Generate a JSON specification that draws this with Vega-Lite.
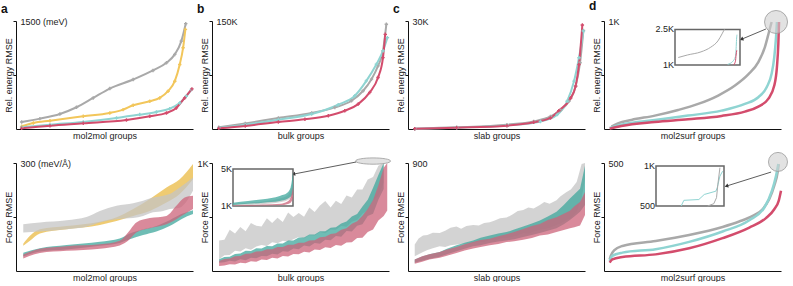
{
"$schema":"https://vega.github.io/schema/vega-lite/v6.json",
"padding":{"left":1,"top":-1,"right":0,"bottom":0},
"background":"white",
"config":{"view":{"stroke":null},"font":"Liberation Sans",
 "axis":{"labelFont":"Liberation Sans","titleFont":"Liberation Sans","labelFontSize":9,"titleFontSize":9,"titleFontWeight":"normal","labelColor":"#222","titleColor":"#222","domainColor":"#111","tickColor":"#111","grid":false},
 "axisX":{"ticks":false,"labels":false,"titlePadding":2},
 "axisY":{"tickSize":3,"labelPadding":-7,"labelAlign":"left","labelBaseline":"middle","labelFlush":false,"labelOverlap":false,"titleX":-5,"titleY":54,"titleBaseline":"alphabetic"},
 "title":{"anchor":"start","frame":"group","font":"Liberation Sans","fontSize":12,"fontWeight":"bold","dx":-15,"offset":1,"color":"#111"}
},
"datasets":{
"aE":[
{"s":"gray","x":3.2,"y":97},{"s":"gray","x":13.5,"y":144},{"s":"gray","x":24.8,"y":209},{"s":"gray","x":34.2,"y":302},{"s":"gray","x":43.6,"y":432},{"s":"gray","x":53,"y":562},{"s":"gray","x":66.2,"y":687},{"s":"gray","x":77.4,"y":813},{"s":"gray","x":85,"y":920},{"s":"gray","x":89.7,"y":1036},{"s":"gray","x":93.4,"y":1221},{"s":"gray","x":95.9,"y":1463},
{"s":"yellow","x":3.2,"y":37},{"s":"yellow","x":9.8,"y":84},{"s":"yellow","x":19.2,"y":116},{"s":"yellow","x":38,"y":176},{"s":"yellow","x":53,"y":223},{"s":"yellow","x":60.5,"y":269},{"s":"yellow","x":66.2,"y":330},{"s":"yellow","x":75.6,"y":385},{"s":"yellow","x":81.2,"y":432},{"s":"yellow","x":85.9,"y":525},{"s":"yellow","x":89.7,"y":664},{"s":"yellow","x":92.5,"y":896},{"s":"yellow","x":94.4,"y":1128},{"s":"yellow","x":95.7,"y":1384},
{"s":"teal","x":3.2,"y":23},{"s":"teal","x":19.2,"y":60},{"s":"teal","x":38,"y":98},{"s":"teal","x":56.8,"y":153},{"s":"teal","x":69.9,"y":200},{"s":"teal","x":79.3,"y":237},{"s":"teal","x":86.8,"y":283},{"s":"teal","x":92.5,"y":362},{"s":"teal","x":96.2,"y":455},{"s":"teal","x":99.1,"y":548},
{"s":"red","x":3.2,"y":9},{"s":"red","x":19.2,"y":46},{"s":"red","x":38,"y":79},{"s":"red","x":62.4,"y":125},{"s":"red","x":75.6,"y":176},{"s":"red","x":85,"y":223},{"s":"red","x":90.6,"y":293},{"s":"red","x":95.3,"y":432},{"s":"red","x":99.4,"y":557}
],
"bE":[
{"s":"gray","x":3.8,"y":2.3},{"s":"gray","x":18.8,"y":7.8},{"s":"gray","x":37.5,"y":15.2},{"s":"gray","x":56.3,"y":22.2},{"s":"gray","x":69.4,"y":30},{"s":"gray","x":78.8,"y":39.2},{"s":"gray","x":85.4,"y":53.1},{"s":"gray","x":90.1,"y":69.2},{"s":"gray","x":93.8,"y":87.7},{"s":"gray","x":96.6,"y":108.5},{"s":"gray","x":98.5,"y":145.4},
{"s":"teal","x":3.8,"y":1.4},{"s":"teal","x":18.8,"y":6},{"s":"teal","x":37.5,"y":12.9},{"s":"teal","x":56.3,"y":20.8},{"s":"teal","x":71.3,"y":33.7},{"s":"teal","x":80.7,"y":46.2},{"s":"teal","x":87.2,"y":66.9},{"s":"teal","x":92.9,"y":90},{"s":"teal","x":96.6,"y":108.5},{"s":"teal","x":99.1,"y":126.9},
{"s":"red","x":3.8,"y":0.9},{"s":"red","x":18.8,"y":4.2},{"s":"red","x":37.5,"y":9.7},{"s":"red","x":52.5,"y":13.4},{"s":"red","x":65.7,"y":18.5},{"s":"red","x":75,"y":25.4},{"s":"red","x":82.6,"y":34.6},{"s":"red","x":89.1,"y":50.8},{"s":"red","x":93.8,"y":71.5},{"s":"red","x":96.6,"y":99.2},{"s":"red","x":97.9,"y":131.5}
],
"cE":[
{"s":"gray","x":3.8,"y":0.09},{"s":"gray","x":27.5,"y":0.46},{"s":"gray","x":55.9,"y":1.2},{"s":"gray","x":71,"y":2.1},{"s":"gray","x":80.5,"y":3.5},{"s":"gray","x":86.2,"y":5.2},{"s":"gray","x":90.9,"y":7.7},{"s":"gray","x":94.7,"y":11.9},{"s":"gray","x":97.2,"y":18.4},{"s":"gray","x":99.1,"y":27.4},
{"s":"teal","x":3.8,"y":0.09},{"s":"teal","x":27.5,"y":0.37},{"s":"teal","x":55.9,"y":1},{"s":"teal","x":74.8,"y":2.1},{"s":"teal","x":84.3,"y":4},{"s":"teal","x":89.9,"y":7.7},{"s":"teal","x":93.8,"y":13.3},{"s":"teal","x":96.6,"y":19.8},{"s":"teal","x":99.1,"y":27.2},
{"s":"red","x":3.8,"y":0.09},{"s":"red","x":27.5,"y":0.37},{"s":"red","x":55.9,"y":0.93},{"s":"red","x":71,"y":1.86},{"s":"red","x":80.5,"y":3.07},{"s":"red","x":85.2,"y":5.1},{"s":"red","x":91.9,"y":8.6},{"s":"red","x":94.7,"y":11.9},{"s":"red","x":96.6,"y":17.9},{"s":"red","x":98.5,"y":28.9}
],
"dE":[
{"s":"gray","x":4.2,"y":22},{"s":"gray","x":7.9,"y":53},{"s":"gray","x":15.5,"y":84},{"s":"gray","x":28.7,"y":124},{"s":"gray","x":41.9,"y":176},{"s":"gray","x":53.2,"y":232},{"s":"gray","x":64.5,"y":310},{"s":"gray","x":74,"y":402},{"s":"gray","x":81.5,"y":505},{"s":"gray","x":87.2,"y":619},{"s":"gray","x":90.9,"y":759},{"s":"gray","x":93.2,"y":898},{"s":"gray","x":94.7,"y":991},
{"s":"teal","x":3.2,"y":9},{"s":"teal","x":9.8,"y":40},{"s":"teal","x":28.7,"y":84},{"s":"teal","x":47.5,"y":124},{"s":"teal","x":66.4,"y":170},{"s":"teal","x":79.6,"y":232},{"s":"teal","x":87.2,"y":294},{"s":"teal","x":91.9,"y":387},{"s":"teal","x":94.7,"y":511},{"s":"teal","x":96.2,"y":666},{"s":"teal","x":97.2,"y":851},{"s":"teal","x":97.7,"y":991},
{"s":"red","x":3.2,"y":3},{"s":"red","x":9.8,"y":28},{"s":"red","x":28.7,"y":65},{"s":"red","x":47.5,"y":90},{"s":"red","x":66.4,"y":121},{"s":"red","x":79.6,"y":161},{"s":"red","x":87.2,"y":207},{"s":"red","x":92.8,"y":279},{"s":"red","x":96.2,"y":402},{"s":"red","x":97.7,"y":573},{"s":"red","x":98.5,"y":789},{"s":"red","x":98.9,"y":991}
],
"dEi":[
{"s":"gray","x":0.05,"y":1316},{"s":"gray","x":0.19,"y":1421},{"s":"gray","x":0.4,"y":1553},{"s":"gray","x":0.55,"y":1750},{"s":"gray","x":0.66,"y":2013},{"s":"gray","x":0.73,"y":2342},{"s":"gray","x":0.76,"y":2500},
{"s":"teal","x":0.81,"y":1026},{"s":"teal","x":0.89,"y":1158},{"s":"teal","x":0.93,"y":1355},{"s":"teal","x":0.94,"y":1684},{"s":"teal","x":0.947,"y":2079},{"s":"teal","x":0.953,"y":2276},
{"s":"red","x":0.9,"y":1000},{"s":"red","x":0.93,"y":1158},{"s":"red","x":0.94,"y":1421},{"s":"red","x":0.95,"y":1618}
],
"aF":[
{"s":"yellow","x":4.1,"hi":76,"lo":70},{"s":"yellow","x":7.9,"hi":98,"lo":84},{"s":"yellow","x":13.5,"hi":116,"lo":104},{"s":"yellow","x":28.6,"hi":125,"lo":116},{"s":"yellow","x":47.4,"hi":137,"lo":128},{"s":"yellow","x":56.8,"hi":149,"lo":139},{"s":"yellow","x":66.2,"hi":172,"lo":153},{"s":"yellow","x":75.6,"hi":200,"lo":167},{"s":"yellow","x":85,"hi":232,"lo":190},{"s":"yellow","x":92.5,"hi":255,"lo":214},{"s":"yellow","x":100,"hi":297,"lo":255},
{"s":"gray","x":4.1,"hi":130,"lo":107},{"s":"gray","x":13.5,"hi":135,"lo":110},{"s":"gray","x":28.6,"hi":141,"lo":116},{"s":"gray","x":39.8,"hi":150,"lo":123},{"s":"gray","x":47.4,"hi":167,"lo":135},{"s":"gray","x":56.8,"hi":181,"lo":144},{"s":"gray","x":66.2,"hi":188,"lo":147},{"s":"gray","x":71.8,"hi":195,"lo":153},{"s":"gray","x":77.4,"hi":204,"lo":163},{"s":"gray","x":83.1,"hi":209,"lo":167},{"s":"gray","x":86.8,"hi":214,"lo":172},{"s":"gray","x":92.5,"hi":232,"lo":176},{"s":"gray","x":100,"hi":260,"lo":223},
{"s":"teal","x":4.1,"hi":51,"lo":40},{"s":"teal","x":13.5,"hi":63,"lo":54},{"s":"teal","x":28.6,"hi":72,"lo":60},{"s":"teal","x":47.4,"hi":81,"lo":70},{"s":"teal","x":58.6,"hi":90,"lo":78},{"s":"teal","x":64.3,"hi":104,"lo":88},{"s":"teal","x":71.8,"hi":116,"lo":100},{"s":"teal","x":79.3,"hi":125,"lo":110},{"s":"teal","x":86.8,"hi":141,"lo":125},{"s":"teal","x":93.4,"hi":158,"lo":144},{"s":"teal","x":100,"hi":169,"lo":158},
{"s":"red","x":4.1,"hi":46,"lo":35},{"s":"red","x":13.5,"hi":62,"lo":50},{"s":"red","x":28.6,"hi":69,"lo":56},{"s":"red","x":47.4,"hi":74,"lo":62},{"s":"red","x":58.6,"hi":84,"lo":71},{"s":"red","x":63.3,"hi":107,"lo":84},{"s":"red","x":68,"hi":135,"lo":107},{"s":"red","x":75.6,"hi":147,"lo":119},{"s":"red","x":85,"hi":153,"lo":130},{"s":"red","x":90.6,"hi":181,"lo":144},{"s":"red","x":95.3,"hi":204,"lo":158},{"s":"red","x":100,"hi":209,"lo":172}
],
"bF":[
{"s":"gray","x":4,"hi":283,"lo":108},{"s":"gray","x":7,"hi":290,"lo":145},{"s":"gray","x":10,"hi":383,"lo":147},{"s":"gray","x":13,"hi":348,"lo":187},{"s":"gray","x":16,"hi":407,"lo":181},{"s":"gray","x":19,"hi":367,"lo":211},{"s":"gray","x":22,"hi":445,"lo":196},{"s":"gray","x":25,"hi":418,"lo":226},{"s":"gray","x":28,"hi":411,"lo":241},{"s":"gray","x":31,"hi":488,"lo":232},{"s":"gray","x":34,"hi":445,"lo":267},{"s":"gray","x":37,"hi":492,"lo":257},{"s":"gray","x":40,"hi":454,"lo":280},{"s":"gray","x":43,"hi":541,"lo":270},{"s":"gray","x":46,"hi":499,"lo":295},{"s":"gray","x":49,"hi":537,"lo":315},{"s":"gray","x":52,"hi":502,"lo":300},{"s":"gray","x":55,"hi":587,"lo":330},{"s":"gray","x":58,"hi":547,"lo":328},{"s":"gray","x":61,"hi":607,"lo":362},{"s":"gray","x":64,"hi":647,"lo":350},{"s":"gray","x":67,"hi":587,"lo":385},{"s":"gray","x":70,"hi":650,"lo":383},{"s":"gray","x":73,"hi":620,"lo":417},{"s":"gray","x":76,"hi":700,"lo":410},{"s":"gray","x":79,"hi":680,"lo":457},{"s":"gray","x":82,"hi":755,"lo":473},{"s":"gray","x":85,"hi":755,"lo":530},{"s":"gray","x":88,"hi":847,"lo":563},{"s":"gray","x":91,"hi":870,"lo":650},{"s":"gray","x":94,"hi":975,"lo":695},{"s":"gray","x":97,"hi":1000,"lo":820},
{"s":"teal","x":4,"hi":108,"lo":77},{"s":"teal","x":7,"hi":130,"lo":80},{"s":"teal","x":10,"hi":132,"lo":95},{"s":"teal","x":13,"hi":158,"lo":88},{"s":"teal","x":16,"hi":162,"lo":108},{"s":"teal","x":19,"hi":188,"lo":100},{"s":"teal","x":22,"hi":186,"lo":122},{"s":"teal","x":25,"hi":210,"lo":118},{"s":"teal","x":28,"hi":208,"lo":140},{"s":"teal","x":31,"hi":232,"lo":136},{"s":"teal","x":34,"hi":230,"lo":160},{"s":"teal","x":37,"hi":254,"lo":152},{"s":"teal","x":40,"hi":255,"lo":182},{"s":"teal","x":43,"hi":282,"lo":178},{"s":"teal","x":46,"hi":282,"lo":208},{"s":"teal","x":49,"hi":310,"lo":202},{"s":"teal","x":52,"hi":310,"lo":235},{"s":"teal","x":55,"hi":338,"lo":226},{"s":"teal","x":58,"hi":338,"lo":260},{"s":"teal","x":61,"hi":368,"lo":252},{"s":"teal","x":64,"hi":368,"lo":290},{"s":"teal","x":67,"hi":400,"lo":284},{"s":"teal","x":70,"hi":405,"lo":325},{"s":"teal","x":73,"hi":440,"lo":318},{"s":"teal","x":76,"hi":458,"lo":370},{"s":"teal","x":79,"hi":505,"lo":366},{"s":"teal","x":82,"hi":528,"lo":420},{"s":"teal","x":85,"hi":598,"lo":432},{"s":"teal","x":88,"hi":660,"lo":510},{"s":"teal","x":91,"hi":770,"lo":530},{"s":"teal","x":94,"hi":890,"lo":660},{"s":"teal","x":97,"hi":1000,"lo":760},
{"s":"red","x":4,"hi":93,"lo":46},{"s":"red","x":7,"hi":110,"lo":50},{"s":"red","x":10,"hi":115,"lo":62},{"s":"red","x":13,"hi":136,"lo":60},{"s":"red","x":16,"hi":140,"lo":76},{"s":"red","x":19,"hi":160,"lo":72},{"s":"red","x":22,"hi":162,"lo":90},{"s":"red","x":25,"hi":181,"lo":86},{"s":"red","x":28,"hi":182,"lo":106},{"s":"red","x":31,"hi":201,"lo":102},{"s":"red","x":34,"hi":202,"lo":122},{"s":"red","x":37,"hi":222,"lo":116},{"s":"red","x":40,"hi":222,"lo":138},{"s":"red","x":43,"hi":242,"lo":134},{"s":"red","x":46,"hi":242,"lo":158},{"s":"red","x":49,"hi":262,"lo":154},{"s":"red","x":52,"hi":262,"lo":178},{"s":"red","x":55,"hi":282,"lo":172},{"s":"red","x":58,"hi":285,"lo":200},{"s":"red","x":61,"hi":312,"lo":194},{"s":"red","x":64,"hi":316,"lo":220},{"s":"red","x":67,"hi":342,"lo":214},{"s":"red","x":70,"hi":350,"lo":240},{"s":"red","x":73,"hi":382,"lo":234},{"s":"red","x":76,"hi":395,"lo":264},{"s":"red","x":79,"hi":438,"lo":266},{"s":"red","x":82,"hi":460,"lo":305},{"s":"red","x":85,"hi":512,"lo":308},{"s":"red","x":88,"hi":575,"lo":362},{"s":"red","x":91,"hi":658,"lo":385},{"s":"red","x":94,"hi":795,"lo":468},{"s":"red","x":97,"hi":955,"lo":510},{"s":"red","x":99,"hi":1000,"lo":560}
],
"bFi":[
{"s":"gray","x":0,"hi":1250,"lo":1050},{"s":"gray","x":0.25,"hi":1350,"lo":1100},{"s":"gray","x":0.5,"hi":1500,"lo":1200},{"s":"gray","x":0.78,"hi":1800,"lo":1400},{"s":"gray","x":0.9,"hi":2100,"lo":1600},{"s":"gray","x":0.96,"hi":2700,"lo":1800},{"s":"gray","x":1,"hi":4000,"lo":2000},
{"s":"teal","x":0,"hi":1364,"lo":1109},{"s":"teal","x":0.25,"hi":1550,"lo":1230},{"s":"teal","x":0.5,"hi":1727,"lo":1364},{"s":"teal","x":0.78,"hi":2091,"lo":1545},{"s":"teal","x":0.9,"hi":2400,"lo":1750},{"s":"teal","x":0.96,"hi":3000,"lo":2000},{"s":"teal","x":1,"hi":4636,"lo":2273},
{"s":"red","x":0,"hi":1060,"lo":1000},{"s":"red","x":0.5,"hi":1150,"lo":1050},{"s":"red","x":0.8,"hi":1250,"lo":1100},{"s":"red","x":0.9,"hi":1450,"lo":1200},{"s":"red","x":0.96,"hi":1900,"lo":1350},{"s":"red","x":1,"hi":3000,"lo":1800}
],
"cF":[
{"s":"gray","x":3.8,"hi":220,"lo":123},{"s":"gray","x":6,"hi":270,"lo":140},{"s":"gray","x":8.5,"hi":296,"lo":159},{"s":"gray","x":11,"hi":300,"lo":175},{"s":"gray","x":14,"hi":318,"lo":190},{"s":"gray","x":17.9,"hi":316,"lo":206},{"s":"gray","x":21,"hi":335,"lo":200},{"s":"gray","x":24,"hi":360,"lo":215},{"s":"gray","x":27.4,"hi":370,"lo":220},{"s":"gray","x":30,"hi":352,"lo":228},{"s":"gray","x":33,"hi":375,"lo":225},{"s":"gray","x":36.8,"hi":384,"lo":233},{"s":"gray","x":40,"hi":380,"lo":245},{"s":"gray","x":43,"hi":400,"lo":240},{"s":"gray","x":46.2,"hi":406,"lo":261},{"s":"gray","x":49,"hi":420,"lo":255},{"s":"gray","x":52,"hi":440,"lo":270},{"s":"gray","x":55.7,"hi":445,"lo":274},{"s":"gray","x":59,"hi":470,"lo":285},{"s":"gray","x":62,"hi":500,"lo":295},{"s":"gray","x":65.1,"hi":508,"lo":316},{"s":"gray","x":68,"hi":530,"lo":310},{"s":"gray","x":71,"hi":520,"lo":330},{"s":"gray","x":74.5,"hi":549,"lo":343},{"s":"gray","x":77,"hi":575,"lo":350},{"s":"gray","x":80,"hi":560,"lo":360},{"s":"gray","x":83.9,"hi":590,"lo":384},{"s":"gray","x":86,"hi":620,"lo":395},{"s":"gray","x":89.6,"hi":659,"lo":425},{"s":"gray","x":92,"hi":680,"lo":440},{"s":"gray","x":95.3,"hi":741,"lo":494},{"s":"gray","x":98.1,"hi":892,"lo":604},{"s":"gray","x":100,"hi":900,"lo":768},
{"s":"teal","x":3.8,"hi":96,"lo":69},{"s":"teal","x":8,"hi":120,"lo":85},{"s":"teal","x":12,"hi":140,"lo":100},{"s":"teal","x":17.9,"hi":159,"lo":118},{"s":"teal","x":22,"hi":185,"lo":140},{"s":"teal","x":27.4,"hi":214,"lo":165},{"s":"teal","x":32,"hi":235,"lo":185},{"s":"teal","x":36.8,"hi":255,"lo":206},{"s":"teal","x":41,"hi":278,"lo":215},{"s":"teal","x":46.2,"hi":296,"lo":233},{"s":"teal","x":51,"hi":312,"lo":245},{"s":"teal","x":55.7,"hi":324,"lo":255},{"s":"teal","x":60,"hi":345,"lo":265},{"s":"teal","x":65.1,"hi":370,"lo":283},{"s":"teal","x":70,"hi":395,"lo":300},{"s":"teal","x":74.5,"hi":420,"lo":316},{"s":"teal","x":79,"hi":455,"lo":335},{"s":"teal","x":83.9,"hi":494,"lo":357},{"s":"teal","x":88,"hi":550,"lo":390},{"s":"teal","x":91.5,"hi":604,"lo":425},{"s":"teal","x":94,"hi":640,"lo":455},{"s":"teal","x":97.2,"hi":686,"lo":494},{"s":"teal","x":100,"hi":878,"lo":549},
{"s":"red","x":3.8,"hi":96,"lo":60},{"s":"red","x":8,"hi":122,"lo":78},{"s":"red","x":12,"hi":140,"lo":95},{"s":"red","x":17.9,"hi":159,"lo":110},{"s":"red","x":22,"hi":180,"lo":128},{"s":"red","x":27.4,"hi":200,"lo":151},{"s":"red","x":32,"hi":222,"lo":170},{"s":"red","x":36.8,"hi":241,"lo":187},{"s":"red","x":41,"hi":258,"lo":200},{"s":"red","x":46.2,"hi":269,"lo":214},{"s":"red","x":51,"hi":290,"lo":225},{"s":"red","x":55.7,"hi":307,"lo":241},{"s":"red","x":60,"hi":325,"lo":248},{"s":"red","x":65.1,"hi":351,"lo":261},{"s":"red","x":70,"hi":375,"lo":275},{"s":"red","x":74.5,"hi":392,"lo":296},{"s":"red","x":79,"hi":425,"lo":305},{"s":"red","x":83.9,"hi":447,"lo":324},{"s":"red","x":88,"hi":478,"lo":342},{"s":"red","x":91.5,"hi":502,"lo":357},{"s":"red","x":94,"hi":540,"lo":365},{"s":"red","x":97.2,"hi":576,"lo":379},{"s":"red","x":100,"hi":659,"lo":466}
],
"dF":[
{"s":"gray","x":3.2,"y":54},{"s":"gray","x":3.8,"y":70},{"s":"gray","x":5.7,"y":96},{"s":"gray","x":10.4,"y":116},{"s":"gray","x":29.2,"y":139},{"s":"gray","x":48.1,"y":167},{"s":"gray","x":67,"y":204},{"s":"gray","x":76.4,"y":229},{"s":"gray","x":84,"y":255},{"s":"gray","x":89.6,"y":286},{"s":"gray","x":93.4,"y":333},{"s":"gray","x":96.2,"y":395},{"s":"gray","x":98.1,"y":457},{"s":"gray","x":98.7,"y":495},
{"s":"teal","x":3.2,"y":46},{"s":"teal","x":4.7,"y":70},{"s":"teal","x":10.4,"y":85},{"s":"teal","x":29.2,"y":101},{"s":"teal","x":48.1,"y":135},{"s":"teal","x":67,"y":183},{"s":"teal","x":82.1,"y":235},{"s":"teal","x":90.6,"y":294},{"s":"teal","x":94.9,"y":372},{"s":"teal","x":97.2,"y":441},{"s":"teal","x":98.5,"y":495},
{"s":"red","x":3.2,"y":39},{"s":"red","x":4.7,"y":54},{"s":"red","x":10.4,"y":65},{"s":"red","x":29.2,"y":77},{"s":"red","x":48.1,"y":105},{"s":"red","x":67,"y":152},{"s":"red","x":82.1,"y":201},{"s":"red","x":91.5,"y":245},{"s":"red","x":96.2,"y":286},{"s":"red","x":98.7,"y":325},{"s":"red","x":100,"y":372}
],
"dFi":[
{"s":"teal","x":0.37,"y":500},{"s":"teal","x":0.41,"y":571},{"s":"teal","x":0.63,"y":581},{"s":"teal","x":0.71,"y":644},{"s":"teal","x":0.88,"y":685},{"s":"teal","x":0.9,"y":727},{"s":"teal","x":0.94,"y":873},{"s":"teal","x":0.98,"y":935},
{"s":"gray","x":0.76,"y":500},{"s":"gray","x":0.85,"y":529},{"s":"gray","x":0.89,"y":604},{"s":"gray","x":0.91,"y":771},{"s":"gray","x":0.94,"y":979}
]
},
"columns":4,
"spacing":{"row":34,"column":19},
"bounds":"flush",
"resolve":{"scale":{"color":"independent"}},
"concat":[
 {"width":177,"height":108,"title":{"text":"a"},
  "layer":[
   {"data":{"name":"aE"},"mark":{"type":"line","strokeWidth":2,"interpolate":"monotone"},
    "encoding":{"x":{"field":"x","type":"quantitative","scale":{"domain":[0,100],"nice":false},"axis":{"title":"mol2mol groups"}},
     "y":{"field":"y","type":"quantitative","scale":{"domain":[0,1500],"nice":false},"axis":{"title":"Rel. energy RMSE","values":[750,1500],"labelExpr":"datum.value == 1500 ? '1500 (meV)' : ''"}},
     "color":{"field":"s","type":"nominal","scale":{"domain":["gray","yellow","teal","red"],"range":["#a9a9a9","#f2c65b","#8fd4d2","#d34c6c"]},"legend":null}}},
   {"data":{"name":"aE"},"mark":{"type":"point","shape":"cross","size":12,"filled":true,"opacity":1},
    "encoding":{"x":{"field":"x","type":"quantitative"},"y":{"field":"y","type":"quantitative"},"color":{"field":"s","type":"nominal","legend":null}}}
  ]},
 {"width":177,"height":108,"title":{"text":"b"},
  "layer":[
   {"data":{"name":"bE"},"mark":{"type":"line","strokeWidth":2,"interpolate":"monotone"},
    "encoding":{"x":{"field":"x","type":"quantitative","scale":{"domain":[0,100],"nice":false},"axis":{"title":"bulk groups"}},
     "y":{"field":"y","type":"quantitative","scale":{"domain":[0,150],"nice":false},"axis":{"title":"Rel. energy RMSE","values":[75,150],"labelExpr":"datum.value == 150 ? '150K' : ''"}},
     "color":{"field":"s","type":"nominal","scale":{"domain":["gray","teal","red"],"range":["#a9a9a9","#8fd4d2","#d34c6c"]},"legend":null}}},
   {"data":{"name":"bE"},"mark":{"type":"point","shape":"cross","size":12,"filled":true,"opacity":1},
    "encoding":{"x":{"field":"x","type":"quantitative"},"y":{"field":"y","type":"quantitative"},"color":{"field":"s","type":"nominal","legend":null}}}
  ]},
 {"width":177,"height":108,"title":{"text":"c"},
  "layer":[
   {"data":{"name":"cE"},"mark":{"type":"line","strokeWidth":2,"interpolate":"monotone"},
    "encoding":{"x":{"field":"x","type":"quantitative","scale":{"domain":[0,100],"nice":false},"axis":{"title":"slab groups"}},
     "y":{"field":"y","type":"quantitative","scale":{"domain":[0,30],"nice":false},"axis":{"title":"Rel. energy RMSE","values":[15,30],"labelExpr":"datum.value == 30 ? '30K' : ''"}},
     "color":{"field":"s","type":"nominal","scale":{"domain":["gray","teal","red"],"range":["#a9a9a9","#8fd4d2","#d34c6c"]},"legend":null}}},
   {"data":{"name":"cE"},"mark":{"type":"point","shape":"cross","size":12,"filled":true,"opacity":1},
    "encoding":{"x":{"field":"x","type":"quantitative"},"y":{"field":"y","type":"quantitative"},"color":{"field":"s","type":"nominal","legend":null}}}
  ]},
 {"width":177,"height":108,"title":{"text":"d","dy":5},
  "resolve":{"scale":{"x":"independent","y":"independent"}},
  "layer":[
   {"layer":[
    {"data":{"name":"dE"},"mark":{"type":"line","strokeWidth":2.5,"interpolate":"monotone"},
     "encoding":{"x":{"field":"x","type":"quantitative","scale":{"domain":[0,100],"nice":false},"axis":{"title":"mol2surf groups"}},
      "y":{"field":"y","type":"quantitative","scale":{"domain":[0,1000],"nice":false},"axis":{"title":"Rel. energy RMSE","values":[500,1000],"labelExpr":"datum.value == 1000 ? '1K' : ''"}},
      "color":{"field":"s","type":"nominal","scale":{"domain":["gray","teal","red"],"range":["#a9a9a9","#8fd4d2","#d34c6c"]},"legend":null}}},
    {"data":{"values":[{"x":97.2,"y":991}]},"mark":{"type":"point","shape":"circle","size":529,"filled":true,"fill":"#cfcfcf","fillOpacity":0.6,"stroke":"#999","strokeWidth":0.8},
     "encoding":{"x":{"field":"x","type":"quantitative"},"y":{"field":"y","type":"quantitative"}}},
    {"data":{"values":[{"x":91.5,"y":926,"x2":78,"y2":833}]},"mark":{"type":"rule","color":"#333","strokeWidth":0.8},
     "encoding":{"x":{"field":"x","type":"quantitative"},"y":{"field":"y","type":"quantitative"},"x2":{"field":"x2"},"y2":{"field":"y2"}}},
    {"data":{"values":[{"x":78,"y":833}]},"mark":{"type":"point","shape":"triangle","size":18,"filled":true,"color":"#333","angle":247,"opacity":1},
     "encoding":{"x":{"field":"x","type":"quantitative"},"y":{"field":"y","type":"quantitative"}}}
   ]},
   {"layer":[
    {"data":{"values":[{"x":0,"x2":1,"y":1000,"y2":2500}]},"mark":{"type":"rect","fill":"white","stroke":"#666","strokeWidth":1.5},
     "encoding":{"x":{"field":"x","type":"quantitative","scale":{"domain":[0,1],"range":[71,136]},"axis":null},"x2":{"field":"x2"},
      "y":{"field":"y","type":"quantitative","scale":{"domain":[1000,2500],"range":[44,6]},"axis":null},"y2":{"field":"y2"}}},
    {"data":{"name":"dEi"},"mark":{"type":"line","strokeWidth":1,"interpolate":"monotone"},
     "encoding":{"x":{"field":"x","type":"quantitative"},"y":{"field":"y","type":"quantitative"},"color":{"field":"s","type":"nominal","legend":null}}},
    {"data":{"values":[{"x":0,"y":2500,"t":"2.5K"},{"x":0,"y":1000,"t":"1K"}]},"mark":{"type":"text","align":"right","baseline":"middle","dx":-1,"fontSize":9,"font":"Liberation Sans","color":"#222"},
     "encoding":{"x":{"field":"x","type":"quantitative"},"y":{"field":"y","type":"quantitative"},"text":{"field":"t"}}}
   ]}
  ]},
 {"width":177,"height":108,
  "layer":[
   {"data":{"name":"aF"},"mark":{"type":"area","opacity":0.75,"interpolate":"monotone"},
    "encoding":{"x":{"field":"x","type":"quantitative","scale":{"domain":[0,100],"nice":false},"axis":{"title":"mol2mol groups"}},
     "y":{"field":"hi","type":"quantitative","scale":{"domain":[0,300],"nice":false},"axis":{"title":"Force RMSE","values":[150,300],"labelExpr":"datum.value == 300 ? '300 (meV/Å)' : ''"}},
     "y2":{"field":"lo"},
     "color":{"field":"s","type":"nominal","scale":{"domain":["yellow","gray","teal","red"],"range":["#eaba43","#c4c4c4","#3fa79c","#cc637a"]},"legend":null}}}
  ]},
 {"width":177,"height":108,
  "resolve":{"scale":{"x":"independent","y":"independent"}},
  "layer":[
   {"layer":[
    {"data":{"name":"bF"},"mark":{"type":"area","opacity":0.75},
     "encoding":{"x":{"field":"x","type":"quantitative","scale":{"domain":[0,100],"nice":false},"axis":{"title":"bulk groups"}},
      "y":{"field":"hi","type":"quantitative","scale":{"domain":[0,1000],"nice":false},"axis":{"title":"Force RMSE","values":[500,1000],"labelExpr":"datum.value == 1000 ? '1K' : ''","labelAlign":"right","labelPadding":1}},
      "y2":{"field":"lo"},
      "color":{"field":"s","type":"nominal","scale":{"domain":["gray","teal","red"],"range":["#c4c4c4","#3fa79c","#cc637a"]},"legend":null}}},
    {"data":{"values":[{"x":91,"y":1018}]},"mark":{"type":"point","shape":"M-1,0A1,0.18,0,1,1,1,0A1,0.18,0,1,1,-1,0Z","size":1225,"filled":true,"fill":"#cfcfcf","fillOpacity":0.6,"stroke":"#999","strokeWidth":0.8},
     "encoding":{"x":{"field":"x","type":"quantitative"},"y":{"field":"y","type":"quantitative"}}},
    {"data":{"values":[{"x":81.4,"y":1009,"x2":46.3,"y2":898}]},"mark":{"type":"rule","color":"#333","strokeWidth":0.8},
     "encoding":{"x":{"field":"x","type":"quantitative"},"y":{"field":"y","type":"quantitative"},"x2":{"field":"x2"},"y2":{"field":"y2"}}},
    {"data":{"values":[{"x":46.3,"y":898}]},"mark":{"type":"point","shape":"triangle","size":18,"filled":true,"color":"#333","angle":259,"opacity":1},
     "encoding":{"x":{"field":"x","type":"quantitative"},"y":{"field":"y","type":"quantitative"}}}
   ]},
   {"layer":[
    {"data":{"values":[{"x":0,"x2":1,"y":1000,"y2":5000}]},"mark":{"type":"rect","fill":"white","stroke":"#666","strokeWidth":1.5},
     "encoding":{"x":{"field":"x","type":"quantitative","scale":{"domain":[0,1],"range":[21,81]},"axis":null},"x2":{"field":"x2"},
      "y":{"field":"y","type":"quantitative","scale":{"domain":[1000,5000],"range":[43,6]},"axis":null},"y2":{"field":"y2"}}},
    {"data":{"name":"bFi"},"mark":{"type":"area","opacity":0.75,"interpolate":"monotone"},
     "encoding":{"x":{"field":"x","type":"quantitative"},"y":{"field":"hi","type":"quantitative"},"y2":{"field":"lo"},"color":{"field":"s","type":"nominal","legend":null}}},
    {"data":{"values":[{"x":0,"y":5000,"t":"5K"},{"x":0,"y":1000,"t":"1K"}]},"mark":{"type":"text","align":"right","baseline":"middle","dx":-1,"fontSize":9,"font":"Liberation Sans","color":"#222"},
     "encoding":{"x":{"field":"x","type":"quantitative"},"y":{"field":"y","type":"quantitative"},"text":{"field":"t"}}}
   ]}
  ]},
 {"width":177,"height":108,
  "layer":[
   {"data":{"name":"cF"},"mark":{"type":"area","opacity":0.75},
    "encoding":{"x":{"field":"x","type":"quantitative","scale":{"domain":[0,100],"nice":false},"axis":{"title":"slab groups"}},
     "y":{"field":"hi","type":"quantitative","scale":{"domain":[0,900],"nice":false},"axis":{"title":"Force RMSE","values":[450,900],"labelExpr":"datum.value == 900 ? '900' : ''"}},
     "y2":{"field":"lo"},
     "color":{"field":"s","type":"nominal","scale":{"domain":["gray","teal","red"],"range":["#c4c4c4","#3fa79c","#cc637a"]},"legend":null}}}
  ]},
 {"width":177,"height":108,
  "resolve":{"scale":{"x":"independent","y":"independent"}},
  "layer":[
   {"layer":[
    {"data":{"name":"dF"},"mark":{"type":"line","strokeWidth":2.5,"interpolate":"monotone"},
     "encoding":{"x":{"field":"x","type":"quantitative","scale":{"domain":[0,100],"nice":false},"axis":{"title":"mol2surf groups"}},
      "y":{"field":"y","type":"quantitative","scale":{"domain":[0,500],"nice":false},"axis":{"title":"Force RMSE","values":[250,500],"labelExpr":"datum.value == 500 ? '500' : ''"}},
      "color":{"field":"s","type":"nominal","scale":{"domain":["gray","teal","red"],"range":["#a9a9a9","#8fd4d2","#d34c6c"]},"legend":null}}},
    {"data":{"values":[{"x":98.3,"y":505}]},"mark":{"type":"point","shape":"circle","size":361,"filled":true,"fill":"#cfcfcf","fillOpacity":0.6,"stroke":"#999","strokeWidth":0.8},
     "encoding":{"x":{"field":"x","type":"quantitative"},"y":{"field":"y","type":"quantitative"}}},
    {"data":{"values":[{"x":94.4,"y":458,"x2":69.5,"y2":394}]},"mark":{"type":"rule","color":"#333","strokeWidth":0.8},
     "encoding":{"x":{"field":"x","type":"quantitative"},"y":{"field":"y","type":"quantitative"},"x2":{"field":"x2"},"y2":{"field":"y2"}}},
    {"data":{"values":[{"x":69.5,"y":394}]},"mark":{"type":"point","shape":"triangle","size":18,"filled":true,"color":"#333","angle":252,"opacity":1},
     "encoding":{"x":{"field":"x","type":"quantitative"},"y":{"field":"y","type":"quantitative"}}}
   ]},
   {"layer":[
    {"data":{"values":[{"x":0,"x2":1,"y":500,"y2":1000}]},"mark":{"type":"rect","fill":"white","stroke":"#666","strokeWidth":1.5},
     "encoding":{"x":{"field":"x","type":"quantitative","scale":{"domain":[0,1],"range":[52,120]},"axis":null},"x2":{"field":"x2"},
      "y":{"field":"y","type":"quantitative","scale":{"domain":[500,1000],"range":[43,3]},"axis":null},"y2":{"field":"y2"}}},
    {"data":{"name":"dFi"},"mark":{"type":"line","strokeWidth":1},
     "encoding":{"x":{"field":"x","type":"quantitative"},"y":{"field":"y","type":"quantitative"},"color":{"field":"s","type":"nominal","legend":null}}},
    {"data":{"values":[{"x":0,"y":1000,"t":"1K"},{"x":0,"y":500,"t":"500"}]},"mark":{"type":"text","align":"right","baseline":"middle","dx":-1,"fontSize":9,"font":"Liberation Sans","color":"#222"},
     "encoding":{"x":{"field":"x","type":"quantitative"},"y":{"field":"y","type":"quantitative"},"text":{"field":"t"}}}
   ]}
  ]}
]
}
